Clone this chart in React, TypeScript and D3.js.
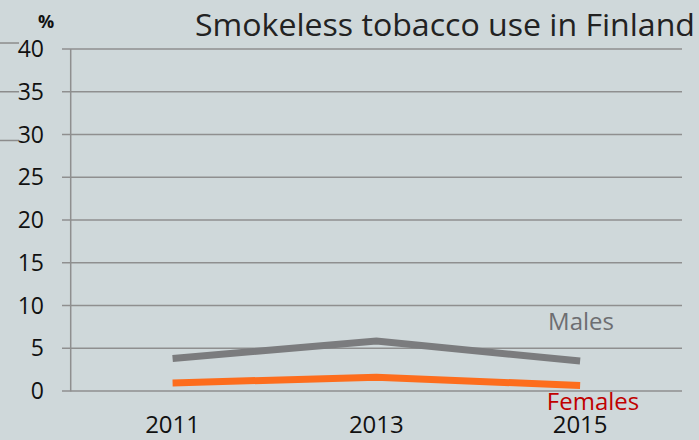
import React from "react";
import * as d3 from "d3";

const years = ["2011", "2013", "2015"];
const males = [3.8, 5.85, 3.5];
const females = [0.95, 1.6, 0.65];
const yTicks = [0, 5, 10, 15, 20, 25, 30, 35, 40];
const strayTicks = [40.7, 35, 29.3];

const W = 699;
const H = 440;
const FONT = "'Open Sans', 'Noto Sans', sans-serif";

export default function App() {
  const x = d3.scaleBand<string>().domain(years).range([70.7, 682]);
  const y = d3.scaleLinear().domain([0, 40]).range([391, 49]);
  const cx = (d: string) => (x(d) as number) + x.bandwidth() / 2;
  const line = d3
    .line<number>()
    .x((_, i) => cx(years[i]))
    .y((v) => y(v));

  return (
    <svg
      width={W}
      height={H}
      style={{ position: "absolute", left: 0, top: 0, display: "block" }}
      fontFamily={FONT}
    >
      <rect width={W} height={H} fill="#cfd8da" />
      {strayTicks.map((t, i) => (
        <line key={i} x1={0} x2={19} y1={y(t)} y2={y(t)} stroke="#8c8c8c" strokeWidth={1.5} />
      ))}
      {yTicks.map((t) => (
        <g key={t}>
          <line x1={62} x2={682} y1={y(t)} y2={y(t)} stroke="#8f8f8f" strokeWidth={1.5} />
          <text x={44} y={y(t) + 8} textAnchor="end" fontSize={23} fill="#111">
            {t}
          </text>
        </g>
      ))}
      <line x1={70.7} x2={70.7} y1={y(40)} y2={y(0) + 0.5} stroke="#8f8f8f" strokeWidth={1.5} />
      <text x={46} y={28} textAnchor="middle" fontSize={18} fontWeight="bold" fill="#111">
        %
      </text>
      <text x={695} y={36} textAnchor="end" fontSize={31} fill="#222" textLength={500} lengthAdjust="spacingAndGlyphs">
        Smokeless tobacco use in Finland
      </text>
      <path d={line(males) || ""} fill="none" stroke="#7b7c7e" strokeWidth={7} />
      <path d={line(females) || ""} fill="none" stroke="#fd6d1d" strokeWidth={7} />
      {years.map((yr) => (
        <text key={yr} x={cx(yr)} y={433} textAnchor="middle" fontSize={24} fill="#111">
          {yr}
        </text>
      ))}
      <text x={581} y={330} textAnchor="middle" fontSize={24} fill="#6d6e71">
        Males
      </text>
      <text x={593} y={410} textAnchor="middle" fontSize={24} fill="#c00000">
        Females
      </text>
    </svg>
  );
}
